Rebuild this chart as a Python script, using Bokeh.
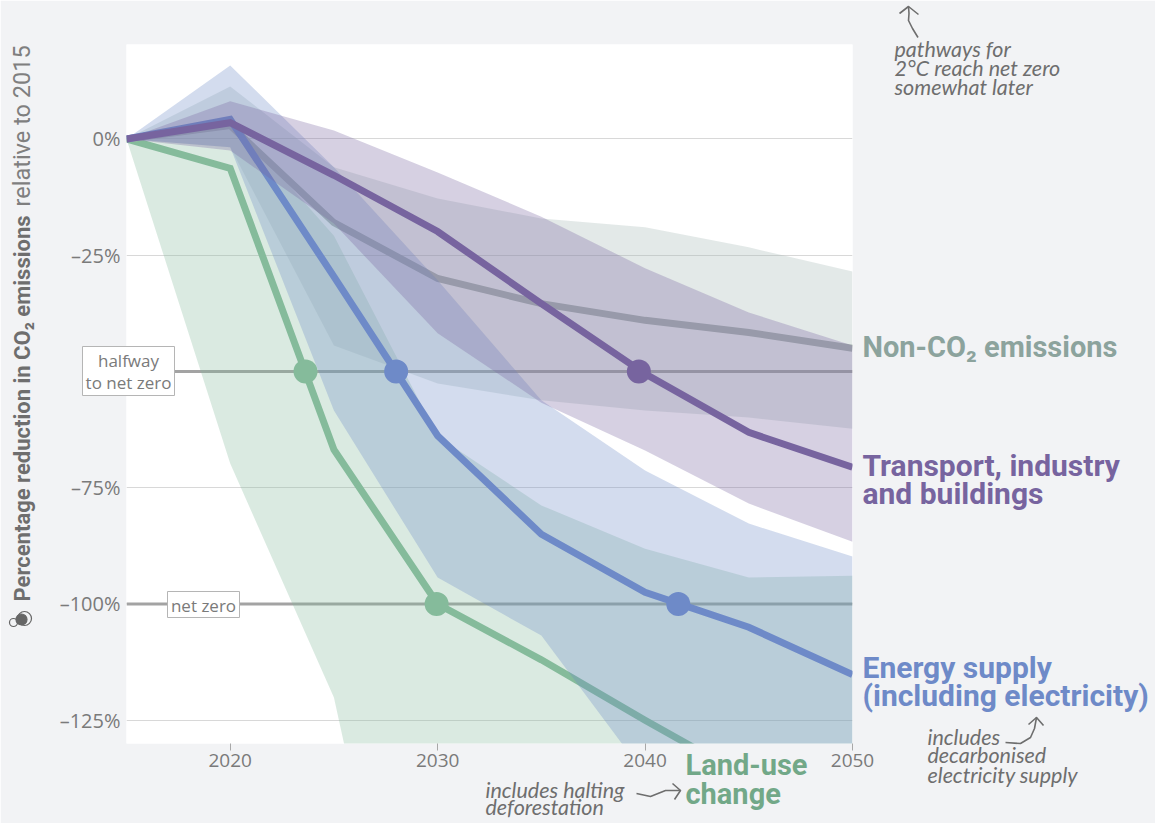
from bokeh.plotting import figure
from bokeh.embed import file_html
from bokeh.resources import INLINE
from bokeh.models import Label, FixedTicker, Range1d, Column

years = [2015, 2020, 2025, 2030, 2035, 2040, 2045, 2050]

land_line = [0, -6.3, -66.8, -100, -112, -125, -137.5, -150]
land_upper = [0, 4.4, -20.8, -64, -78.8, -88.1, -94.3, -93.9]
land_lower = [0, -69.8, -120.1, -222, -260, -300, -340, -380]

nonco2_line = [0, 2.9, -18, -30, -35.4, -39, -41.6, -45]
nonco2_upper = [0, 11.3, -6.1, -12.8, -17.1, -19, -23.3, -28.5]
nonco2_lower = [0, -1.8, -44.4, -52.6, -56.2, -58.4, -59.9, -62.3]

energy_line = [0, 4.2, -29.6, -63.8, -85, -97.5, -105, -115.2]
energy_upper = [0, 15.8, -6.1, -30.4, -56.2, -71.3, -82.7, -89.8]
energy_lower = [0, -1.8, -58.4, -94.3, -106.8, -136.7, -160, -185]

transport_line = [0, 3.5, -7.8, -19.9, -35.4, -50.5, -63.1, -70.6]
transport_upper = [0, 8.1, 1.8, -7.2, -16.7, -27.8, -37.3, -44.4]
transport_lower = [0, -2.5, -18.2, -41.8, -56.7, -67, -78.4, -86.6]

halfway_x = [2023.63, 2028.0, 2039.7]
halfway_y = [-50, -50, -50]
netzero_x = [2029.95, 2041.6]
netzero_y = [-100, -100]

y_ticks = [0, -25, -75, -100, -125]
y_labels = {0: "0%", -25: "–25%", -75: "–75%", -100: "–100%", -125: "–125%"}
x_ticks = [2020, 2030, 2040, 2050]

GREEN, BLUE, PURPLE = "#85BB9B", "#6E8AC8", "#77649F"
GREY_BAND, GREY_LINE = "#A2B6B2", "#A6B2AF"
REF = "#A3A3A3"
BODY = "Open Sans"
BOLD = "Roboto"
HAND = "Lato"
TXT = "#7A7A7A"
W, H = 1155, 823

p = figure(width=W, height=H, output_backend="svg", toolbar_location=None,
           x_range=Range1d(2015, 2050), y_range=Range1d(-130, 20.32),
           min_border_left=126, min_border_right=303, min_border_top=44, min_border_bottom=80,
           frame_align=False,
           background_fill_color="#FFFFFF", border_fill_color="#F2F3F5", outline_line_color=None)
p.xgrid.visible = False
p.ygrid.ticker = FixedTicker(ticks=y_ticks)
p.ygrid.grid_line_color = "#D8D8D8"
p.ygrid.grid_line_width = 1

p.xaxis.ticker = FixedTicker(ticks=x_ticks)
p.xaxis.axis_line_color = None
p.xaxis.major_tick_line_color = "#A8A8A8"
p.xaxis.major_tick_in = 0
p.xaxis.major_tick_out = 7
p.xaxis.minor_tick_line_color = None
p.xaxis.major_label_standoff = 3
p.xaxis.major_label_text_font = BODY
p.xaxis.major_label_text_font_size = "19px"
p.xaxis.major_label_text_color = TXT

p.yaxis.ticker = FixedTicker(ticks=y_ticks)
p.yaxis.major_label_overrides = y_labels
p.yaxis.axis_line_color = None
p.yaxis.major_tick_line_color = None
p.yaxis.minor_tick_line_color = None
p.yaxis.major_tick_out = 0
p.yaxis.major_label_standoff = 6
p.yaxis.major_label_text_font = BODY
p.yaxis.major_label_text_font_size = "20px"
p.yaxis.major_label_text_color = TXT

# reference lines
p.line([2015, 2050], [-50, -50], line_color=REF, line_width=3)
p.line([2015, 2050], [-100, -100], line_color=REF, line_width=3)

for up, lo, ln, col, lcol in [
    (land_upper, land_lower, land_line, GREEN, GREEN),
    (nonco2_upper, nonco2_lower, nonco2_line, GREY_BAND, GREY_LINE),
    (energy_upper, energy_lower, energy_line, BLUE, BLUE),
    (transport_upper, transport_lower, transport_line, PURPLE, PURPLE),
]:
    p.varea(years, up, lo, fill_color=col, fill_alpha=0.3)
    p.line(years, ln, line_color=lcol, line_width=7, line_join="miter")

p.scatter(halfway_x, halfway_y, size=24, color=[GREEN, BLUE, PURPLE], line_color=None)
p.scatter(netzero_x, netzero_y, size=24, color=[GREEN, BLUE], line_color=None)

# transparent full-page layer for the labels and notes that lie outside the plot frame
q = figure(width=W, height=H, output_backend="svg", toolbar_location=None,
           x_range=Range1d(0, W), y_range=Range1d(H, 0),
           x_axis_location=None, y_axis_location=None, frame_align=False,
           min_border=0, background_fill_color=None, border_fill_color=None, outline_line_color=None,
           margin=(-H, 0, 0, 0))
q.grid.visible = False

SHIFT = 0.38  # Label draws "alphabetic" text this share of its size below the anchor


def txt(px, py, s, font=BODY, size=18, color=TXT, style="normal", **kw):
    q.add_layout(Label(x=px, y=py - SHIFT * size, text=s, text_font=font, text_font_size=f"{size}px",
                       text_color=color, text_font_style=style, text_baseline="alphabetic", **kw))


def vtxt(px, py, s, font=BOLD, size=22, color="#6E6E6E", style="normal"):
    q.add_layout(Label(x=px - SHIFT * size, y=py, text=s, text_font=font, text_font_size=f"{size}px",
                       text_color=color, text_font_style=style, text_baseline="alphabetic",
                       angle=90, angle_units="deg"))


def box(x0, y0, x1, y1):
    q.quad(left=x0, right=x1, top=y0, bottom=y1, fill_color="#FFFFFF", line_color="#B5B5B5", line_width=1)


def path(pts, color="#6E6E6E", width=1.6):
    q.line([a for a, b in pts], [b for a, b in pts], line_color=color, line_width=width, line_join="round")


def disc(cx, cy, d, fill=None, color="#666666"):
    q.scatter([cx], [cy], size=d, fill_color=fill, line_color=color, line_width=1.2)


box(82, 346, 174, 395)
box(167, 591, 239, 617)
txt(128, 366, "halfway", size=17, text_align="center")
txt(128, 388, "to net zero", size=17, text_align="center")
txt(203, 611, "net zero", size=17, text_align="center")

txt(862, 358, "Non-CO₂ emissions", font=BOLD, size=29, color="#8CA39D", style="bold")
txt(862, 476, "Transport, industry", font=BOLD, size=30, color=PURPLE, style="bold")
txt(862, 504, "and buildings", font=BOLD, size=30, color=PURPLE, style="bold")
txt(862, 678, "Energy supply", font=BOLD, size=30, color=BLUE, style="bold")
txt(862, 706, "(including electricity)", font=BOLD, size=30, color=BLUE, style="bold")
txt(685, 776, "Land-use", font=BOLD, size=29, color="#72A888", style="bold")
txt(685, 805, "change", font=BOLD, size=29, color="#72A888", style="bold")

for px, py, s in [(894, 57, "pathways for"), (894, 76, "2°C reach net zero"), (894, 95, "somewhat later"),
                  (927, 745, "includes"), (927, 763, "decarbonised"), (927, 783, "electricity supply"),
                  (485, 798, "includes halting"), (485, 815, "deforestation")]:
    txt(px, py, s, font=HAND, size=21.5, color="#6E6E6E", style="italic")

path([(917.5, 37), (912, 28), (908, 20), (908.5, 13), (908, 6)])
path([(899, 13), (908, 6), (918, 14)])
path([(1005, 742), (1020, 743), (1030, 737), (1034, 728), (1036, 717)])
path([(1028, 724), (1036, 717), (1043, 725)])
path([(636, 793), (650, 796), (665, 790), (680, 790)])
path([(672, 783), (680, 790), (674, 799)])

vtxt(30, 601, "Percentage reduction in CO₂ emissions", size=22, style="bold")
vtxt(30, 206, "relative to 2015", size=23.5, color="#7F7F7F")
disc(24, 618, 14)
disc(21, 619, 11, fill="#666666")
disc(13, 622, 8)

root = Column(children=[p, q], spacing=0)
open("out.html", "w").write(file_html(root, INLINE))
